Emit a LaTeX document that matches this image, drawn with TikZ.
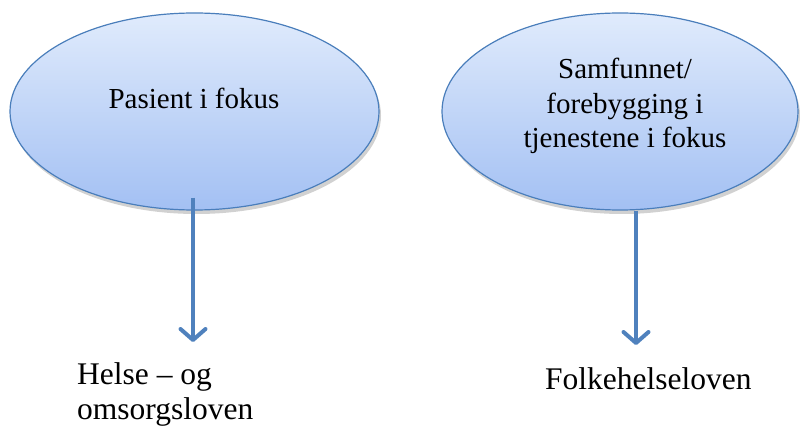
\documentclass[tikz,border=0pt]{standalone}
\usepackage{fontspec}
\setmainfont{Liberation Serif}
\usetikzlibrary{shapes.geometric,shadows,arrows.meta}
\definecolor{edgeblue}{HTML}{4A7EBB}
\definecolor{topblue}{HTML}{E0EBFC}
\definecolor{botblue}{HTML}{A3C0F3}
\definecolor{arrowblue}{HTML}{4F81BD}
\tikzset{
  bubble/.style={ellipse, draw=edgeblue, line width=1.2pt, top color=topblue, bottom color=botblue,
    drop shadow={shadow xshift=2pt, shadow yshift=-4pt, fill=black, opacity=0.18}},
  bubtext/.style={font=\fontsize{29}{34.5}\selectfont, inner sep=0pt, align=center},
  lawtext/.style={font=\fontsize{31.5}{35}\selectfont, inner sep=0pt, align=left},
  flow/.style={draw=arrowblue, line width=4pt, line cap=butt,
    -{Straight Barb[length=11pt,width=25pt,line width=4pt,round]}}
}
\begin{document}
\begin{tikzpicture}[x=1pt,y=1pt]
\useasboundingbox (0,0) rectangle (800,426);
\node[bubble, minimum width=369pt, minimum height=197pt] (p) at (194.5,314.5) {};
\node[bubble, minimum width=356pt, minimum height=197pt] (s) at (620,314.5) {};
\node[bubtext, anchor=base] (pt) at (194,317) {Pasient i fokus};
\node[bubtext, anchor=north] (st) at (625,368) {Samfunnet/\\forebygging i\\tjenestene i fokus};
\coordinate (t1) at (193,84);
\coordinate (t2) at (636,81);
\draw[flow] ([xshift=-1.5pt,yshift=13pt]p.south) -- (t1);
\draw[flow] ([xshift=16pt]s.south) -- (t2);
\node[lawtext, anchor=north west] (hl) at (77,64) {Helse – og\\omsorgsloven};
\node[lawtext, anchor=base west] (fl) at (545,37) {Folkehelseloven};
\end{tikzpicture}
\end{document}
